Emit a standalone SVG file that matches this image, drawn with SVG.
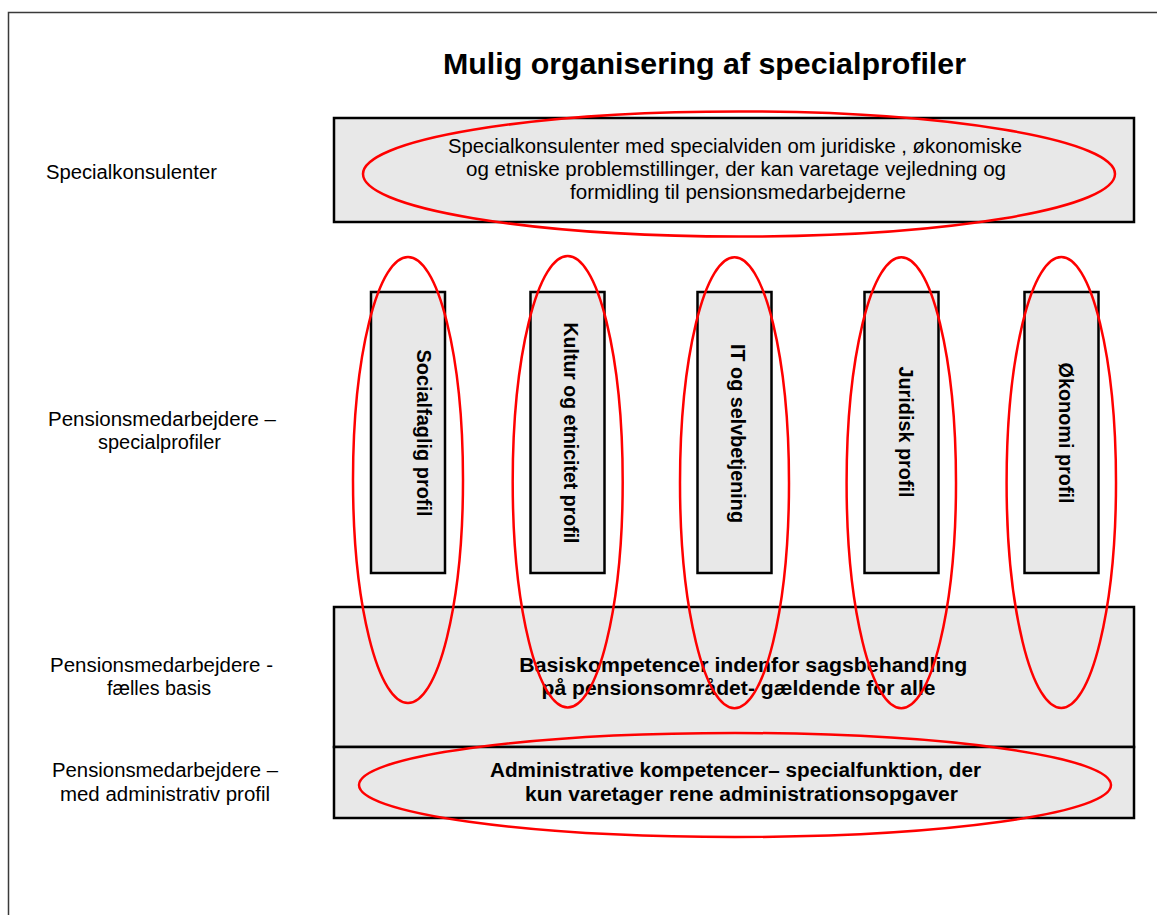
<svg xmlns="http://www.w3.org/2000/svg" width="1157" height="915" viewBox="0 0 1157 915">
<style>
.box{fill:#e8e8e8;stroke:#000;stroke-width:2.5}
.ring{fill:none;stroke:#ff0000;stroke-width:2.5}
.t{font-family:"Liberation Sans",Arial,sans-serif;fill:#000}
.reg{font-size:19.5px}
.b{font-size:20px;font-weight:bold}
.title{font-size:30px;font-weight:bold}
</style>
<rect width="1157" height="915" fill="#fff"/>
<path d="M8.5,915 V12.5 H1157" fill="none" stroke="#3a3a3a" stroke-width="1.5"/>
<text class="t title" x="443" y="74" textLength="523" lengthAdjust="spacingAndGlyphs">Mulig organisering af specialprofiler</text>

<g id="label-specialkonsulenter"><text class="t reg" x="46" y="179" textLength="171" lengthAdjust="spacingAndGlyphs">Specialkonsulenter</text></g>
<g id="label-specialprofiler">
<text class="t reg" x="48" y="426" textLength="228" lengthAdjust="spacingAndGlyphs">Pensionsmedarbejdere –</text>
<text class="t reg" x="98" y="449" textLength="123" lengthAdjust="spacingAndGlyphs">specialprofiler</text>
</g>
<g id="label-faelles">
<text class="t reg" x="50" y="672" textLength="223" lengthAdjust="spacingAndGlyphs">Pensionsmedarbejdere -</text>
<text class="t reg" x="107" y="695" textLength="104" lengthAdjust="spacingAndGlyphs">fælles basis</text>
</g>
<g id="label-admin">
<text class="t reg" x="52" y="777" textLength="226" lengthAdjust="spacingAndGlyphs">Pensionsmedarbejdere –</text>
<text class="t reg" x="60" y="801" textLength="210" lengthAdjust="spacingAndGlyphs">med administrativ profil</text>
</g>

<g id="specialkonsulenter-box">
<rect class="box" x="334" y="118" width="800" height="104"/>
<text class="t reg" x="448" y="153" textLength="574" lengthAdjust="spacingAndGlyphs">Specialkonsulenter med specialviden om juridiske , økonomiske</text>
<text class="t reg" x="466" y="176" textLength="540" lengthAdjust="spacingAndGlyphs">og etniske problemstillinger, der kan varetage vejledning og</text>
<text class="t reg" x="570" y="199" textLength="336" lengthAdjust="spacingAndGlyphs">formidling til pensionsmedarbejderne</text>
</g>

<g id="socialfaglig">
<rect class="box" x="371" y="292" width="74" height="281"/>
<text class="t b" transform="translate(416.5,433) rotate(90)" x="0" y="0" text-anchor="middle" textLength="167" lengthAdjust="spacingAndGlyphs">Socialfaglig profil</text>
</g>
<g id="kultur">
<rect class="box" x="530.5" y="292" width="74" height="281"/>
<text class="t b" transform="translate(564,433) rotate(90)" x="0" y="0" text-anchor="middle" textLength="221" lengthAdjust="spacingAndGlyphs">Kultur og etnicitet profil</text>
</g>
<g id="it">
<rect class="box" x="697.5" y="292" width="74" height="281"/>
<text class="t b" transform="translate(730.5,433.5) rotate(90)" x="0" y="0" text-anchor="middle" textLength="179" lengthAdjust="spacingAndGlyphs">IT og selvbetjening</text>
</g>
<g id="juridisk">
<rect class="box" x="864.5" y="292" width="74" height="281"/>
<text class="t b" transform="translate(898.5,432) rotate(90)" x="0" y="0" text-anchor="middle" textLength="131" lengthAdjust="spacingAndGlyphs">Juridisk profil</text>
</g>
<g id="oekonomi">
<rect class="box" x="1024.5" y="292" width="74" height="281"/>
<text class="t b" transform="translate(1058.5,433) rotate(90)" x="0" y="0" text-anchor="middle" textLength="141" lengthAdjust="spacingAndGlyphs">Økonomi profil</text>
</g>

<g id="basis">
<rect class="box" x="334" y="607" width="800" height="140"/>
<text class="t b" x="519.3" y="672" textLength="448" lengthAdjust="spacingAndGlyphs">Basiskompetencer indenfor sagsbehandling</text>
<text class="t b" x="541.5" y="695" textLength="394" lengthAdjust="spacingAndGlyphs">på pensionsområdet- gældende for alle</text>
</g>
<g id="administrativ">
<rect class="box" x="334" y="747" width="800" height="71"/>
<text class="t b" x="490" y="777" textLength="491" lengthAdjust="spacingAndGlyphs">Administrative kompetencer– specialfunktion, der</text>
<text class="t b" x="525" y="801" textLength="433" lengthAdjust="spacingAndGlyphs">kun varetager rene administrationsopgaver</text>
</g>

<g id="connectors"></g>

<g id="highlights">
<ellipse class="ring" cx="739" cy="174" rx="376" ry="62.5"/>
<ellipse class="ring" cx="408" cy="480" rx="55" ry="223"/>
<ellipse class="ring" cx="567.7" cy="481.7" rx="55" ry="225.7"/>
<ellipse class="ring" cx="734.5" cy="482.8" rx="54.5" ry="225.5"/>
<ellipse class="ring" cx="901.3" cy="482.8" rx="54.7" ry="225.5"/>
<ellipse class="ring" cx="1061.3" cy="482.5" rx="54.7" ry="225.5"/>
<ellipse class="ring" cx="735" cy="785" rx="376" ry="52"/>
</g>
</svg>
